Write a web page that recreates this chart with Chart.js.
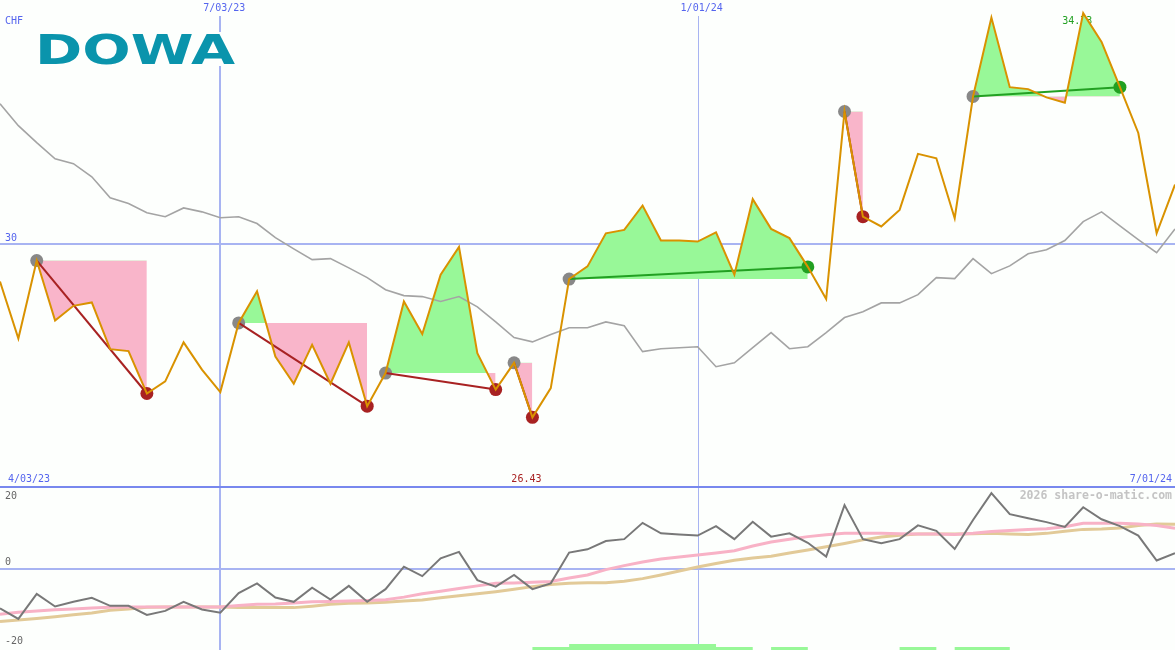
<!DOCTYPE html>
<html>
<head>
<meta charset="utf-8">
<script src="https://cdn.jsdelivr.net/npm/chart.js@4.4.1/dist/chart.umd.min.js"></script>
<style>
html,body{margin:0;padding:0;background:#fdfffd;}
#wrap{width:1175px;height:650px;position:relative;}
canvas{display:block;}
</style>
</head>
<body>
<div id="wrap"><canvas id="c" width="1175" height="650"></canvas></div>
<script>
// ---- data (weekly, Mondays) ----
const weeks = ['4/03/23','4/10/23','4/17/23','4/24/23','5/08/23','5/15/23','5/22/23','5/29/23','6/05/23','6/12/23',
  '6/19/23','6/26/23','7/03/23','7/10/23','7/17/23','7/24/23','7/31/23','8/07/23','8/14/23','8/21/23',
  '8/28/23','9/04/23','9/11/23','9/18/23','9/25/23','10/02/23','10/09/23','10/16/23','10/23/23','10/30/23',
  '11/06/23','11/13/23','11/20/23','11/27/23','12/04/23','12/11/23','12/18/23','12/25/23','1/01/24','1/08/24',
  '1/15/24','1/22/24','1/29/24','2/05/24','2/12/24','2/19/24','2/26/24','3/04/24','3/11/24','3/18/24',
  '3/25/24','4/01/24','4/08/24','4/15/24','4/22/24','4/29/24','5/06/24','5/13/24','5/20/24','5/27/24',
  '6/03/24','6/10/24','6/17/24','6/24/24','7/01/24'];

const price = [29.22,28.05,29.65,28.42,28.72,28.79,27.83,27.79,26.92,27.17,
  27.97,27.41,26.95,28.37,29.02,27.68,27.12,27.92,27.12,27.97,
  26.66,27.34,28.81,28.14,29.36,29.93,27.75,27.00,27.55,26.43,
  27.03,29.27,29.53,30.21,30.28,30.78,30.06,30.06,30.04,30.23,
  29.36,30.91,30.30,30.11,29.52,28.86,32.71,30.55,30.35,30.69,
  31.84,31.75,30.52,33.02,34.64,33.21,33.17,33.00,32.89,34.73,
  34.14,33.21,32.27,30.21,31.21];

const movingAvg = [32.87,32.42,32.07,31.74,31.64,31.37,30.94,30.82,30.63,30.55,
  30.73,30.65,30.53,30.55,30.41,30.12,29.89,29.67,29.69,29.50,
  29.30,29.05,28.93,28.91,28.81,28.91,28.70,28.39,28.07,27.98,
  28.13,28.27,28.27,28.39,28.31,27.78,27.84,27.86,27.88,27.47,
  27.55,27.86,28.17,27.84,27.88,28.17,28.48,28.60,28.78,28.78,
  28.95,29.30,29.28,29.69,29.38,29.54,29.79,29.87,30.06,30.45,
  30.65,30.36,30.08,29.81,30.30];

const momentum = [-11.0,-13.9,-7.0,-10.5,-9.2,-8.1,-10.3,-10.3,-12.8,-11.7,
  -9.2,-11.3,-12.2,-6.8,-4.1,-8.0,-9.2,-5.3,-8.6,-4.8,
  -9.2,-5.7,0.5,-2.1,2.8,4.6,-3.2,-5.0,-1.8,-5.7,
  -4.1,4.4,5.3,7.6,8.1,12.6,9.7,9.4,9.1,11.7,
  8.1,12.9,8.8,9.7,7.1,3.3,17.5,8.1,7.0,8.1,
  11.9,10.4,5.4,13.4,20.8,15.0,13.9,12.8,11.5,16.9,
  13.6,11.7,9.1,2.2,4.2];

const momentumAvgFast = [-12.6,-12.1,-11.7,-11.4,-11.2,-10.9,-10.7,-10.6,-10.6,-10.6,
  -10.6,-10.6,-10.6,-10.2,-9.9,-9.8,-9.5,-9.2,-9.1,-9.0,
  -8.8,-8.6,-7.9,-7.0,-6.3,-5.5,-4.8,-4.1,-4.0,-3.8,
  -3.6,-2.6,-1.8,-0.3,0.8,1.8,2.6,3.2,3.7,4.3,
  4.9,6.2,7.3,8.1,8.8,9.3,9.7,9.7,9.7,9.6,
  9.5,9.5,9.4,9.7,10.2,10.5,10.8,11.0,11.5,12.5,
  12.5,12.5,12.3,11.9,11.1];

const momentumAvgSlow = [-14.6,-14.2,-13.8,-13.3,-12.8,-12.3,-11.5,-11.2,-10.7,-10.6,
  -10.6,-10.6,-10.6,-10.8,-10.8,-10.8,-10.8,-10.4,-9.9,-9.6,
  -9.5,-9.3,-9.0,-8.7,-8.1,-7.5,-7.0,-6.4,-5.7,-5.0,
  -4.4,-4.1,-3.9,-3.9,-3.5,-2.8,-1.8,-0.7,0.4,1.4,
  2.3,2.9,3.4,4.3,5.1,6.0,6.9,7.9,8.7,9.2,
  9.5,9.5,9.5,9.6,9.7,9.5,9.4,9.7,10.3,10.8,
  10.9,11.2,11.9,12.3,12.2];

const signalStrength = [0,0,0,0,0,0,0,0,0,0, 0,0,0,0,0,0,0,0,0,0,
  0,0,0,0,0,0,0,0,0,1, 1,2,2,2,2,2,2,2,2,1,
  1,0,1,1,0,0,0,0,0,1, 1,0,1,1,1,0,0,0,0,0, 0,0,0,0,0];

const patternStart = [2,13,21,28,31,46,53];
const patternEnd   = [8,20,27,29,44,47,61];
const patternType  = ['down','down','down','down','up','down','up'];

const gridWeekIdx = [12, 38];
const priceTicks = [30];
const momentumTicks = [20, 0, -20];
const currency = 'CHF';
const minLabel = '26.43';
const maxLabel = '34.73';
const watermark = '2026 share-o-matic.com';
const logoText = 'DOWA';

// ---- colours ----
const BG = '#fdfffd';
const GRID = '#a8b4f2';
const SEP = '#7888ee';
const TXT_BLUE = '#5565ee';
const GREEN_FILL = '#98f898';
const PINK_FILL = '#f9b5ca';
const RED = '#a82222';
const GREEN = '#22a022';

// ---- datasets ----
const N = price.length;
const datasets = [];

datasets.push({ label:'price', data: price, yAxisID:'y', borderColor:'#d99200', borderWidth:2,
  pointRadius:0, tension:0, fill:false, order:1 });

patternStart.forEach((s, k) => {
  const e = patternEnd[k];
  const d = new Array(N).fill(null);
  d[s] = price[s]; d[e] = price[e];
  datasets.push({ label:'trend'+k, data:d, yAxisID:'y', spanGaps:true,
    borderColor: patternType[k]==='up' ? GREEN : RED, borderWidth:2, pointRadius:0, fill:false, order:3 });
});

const startDots = new Array(N).fill(null);
const downDots = new Array(N).fill(null);
const upDots = new Array(N).fill(null);
patternStart.forEach((s, k) => {
  startDots[s] = price[s];
  const e = patternEnd[k];
  if (patternType[k]==='up') upDots[e] = price[e]; else downDots[e] = price[e];
});
[[startDots,'#888888'],[downDots,RED],[upDots,GREEN]].forEach(([d,c],k)=>{
  datasets.push({ label:'dots'+k, data:d, yAxisID:'y', showLine:false, pointRadius:6.5,
    pointBorderWidth:0, pointBackgroundColor:c, pointBorderColor:c, order:4 });
});

datasets.push({ label:'momentum', data: momentum, yAxisID:'yb', borderColor:'#787878', borderWidth:2,
  pointRadius:0, tension:0, fill:false, order:5 });
datasets.push({ label:'momFast', data: momentumAvgFast, yAxisID:'yb', borderColor:'#f8b2c6', borderWidth:3,
  pointRadius:0, tension:0, fill:false, order:6 });
datasets.push({ label:'momSlow', data: momentumAvgSlow, yAxisID:'yb', borderColor:'#e2ca98', borderWidth:3,
  pointRadius:0, tension:0, fill:false, order:7 });

datasets.push({ label:'ma', data: movingAvg, yAxisID:'y', borderColor:'#a4a4a4', borderWidth:1.6,
  pointRadius:0, tension:0, fill:false, order:8 });

patternStart.forEach((s, k) => {
  const e = patternEnd[k];
  const d = price.map((v,i) => (i>=s && i<=e) ? v : null);
  datasets.push({ label:'zone'+k, data:d, yAxisID:'y', spanGaps:false, borderWidth:0, pointRadius:0,
    borderColor:'rgba(0,0,0,0)',
    fill:{ target:{ value: price[s] }, above: GREEN_FILL, below: PINK_FILL }, order:9 });
});

datasets.push({ label:'signal', data: signalStrength, yAxisID:'ys', stepped:'before', borderWidth:0,
  borderColor:'rgba(0,0,0,0)', pointRadius:0, fill:{ target:'origin', above: GREEN_FILL }, order:10 });

// ---- decorations ----
const MONO = '"DejaVu Sans Mono", "Liberation Mono", monospace';
const decor = {
  id:'decor',
  beforeDraw(chart){
    const c = chart.ctx;
    c.save(); c.fillStyle = BG; c.fillRect(0,0,chart.width,chart.height); c.restore();
  },
  beforeDatasetsDraw(chart){
    const c = chart.ctx, x = chart.scales.x, y = chart.scales.y, yb = chart.scales.yb;
    const W = chart.width, H = chart.height;
    c.save();
    // vertical week grid
    gridWeekIdx.forEach((i,k) => {
      const px = Math.round(x.getPixelForValue(i)) + (k===0 ? 0 : 0.5);
      c.strokeStyle = GRID; c.lineWidth = k===0 ? 2 : 1;
      c.beginPath(); c.moveTo(px, 16); c.lineTo(px, H); c.stroke();
    });
    // horizontal price ticks
    priceTicks.forEach(v => {
      const py = Math.round(y.getPixelForValue(v));
      c.strokeStyle = GRID; c.lineWidth = 2;
      c.beginPath(); c.moveTo(0, py); c.lineTo(W, py); c.stroke();
    });
    // zero line of lower panel
    const z = Math.round(yb.getPixelForValue(0));
    c.strokeStyle = GRID; c.lineWidth = 2;
    c.beginPath(); c.moveTo(0, z); c.lineTo(W, z); c.stroke();
    // separator (price 25 / momentum 22.5)
    const sep = Math.round(y.getPixelForValue(25));
    c.strokeStyle = SEP; c.lineWidth = 2;
    c.beginPath(); c.moveTo(0, sep); c.lineTo(W, sep); c.stroke();

    // max / min labels
    let iMax = 0, iMin = 0;
    price.forEach((v,i)=>{ if(v>price[iMax]) iMax=i; if(v<price[iMin]) iMin=i; });
    c.font = '10px ' + MONO; c.textAlign = 'center'; c.textBaseline = 'middle';
    c.fillStyle = GREEN; c.fillText(maxLabel, x.getPixelForValue(iMax) - 6, 21);
    c.fillStyle = RED; c.fillText(minLabel, x.getPixelForValue(iMin) - 6, sep - 8);
    c.restore();
  },
  afterDatasetsDraw(chart){
    const c = chart.ctx, x = chart.scales.x, y = chart.scales.y, yb = chart.scales.yb;
    const W = chart.width;
    const sep = Math.round(y.getPixelForValue(25));
    c.save();
    c.font = '10px ' + MONO; c.textBaseline = 'middle';
    c.fillStyle = TXT_BLUE;
    c.textAlign = 'left'; c.fillText(currency, 5, 21);
    priceTicks.forEach(v => c.fillText(String(v), 5, y.getPixelForValue(v) - 5));
    gridWeekIdx.forEach(i => { c.textAlign='center'; c.fillText(weeks[i], x.getPixelForValue(i) + 4, 8); });
    c.textAlign = 'left'; c.fillText(weeks[0], 8, sep - 8);
    c.textAlign = 'right'; c.fillText(weeks[N-1], W - 3, sep - 8);
    // lower panel ticks
    c.fillStyle = '#666666'; c.textAlign = 'left';
    momentumTicks.forEach(v => {
      const py = yb.getPixelForValue(v) - (v===0 ? 6 : 0);
      c.fillText(String(v), 5, py);
    });
    // watermark
    c.font = 'bold 11.5px ' + MONO; c.fillStyle = '#c4c4c4'; c.textAlign = 'right';
    c.fillText(watermark, W - 3, sep + 9);
    // logo
    c.fillStyle = BG; c.fillRect(33, 32, 205, 34);
    c.font = 'bold 40px "DejaVu Sans"'; c.textAlign = 'left'; c.textBaseline = 'alphabetic';
    const w = c.measureText(logoText).width;
    c.translate(35, 64); c.scale(200 / w, 1);
    c.fillStyle = '#0a94ac'; c.fillText(logoText, 0, 0);
    c.restore();
  }
};

new Chart(document.getElementById('c'), {
  type: 'line',
  data: { labels: weeks, datasets },
  options: {
    responsive: false, animation: false, events: [],
    layout: { padding: 0, autoPadding: false },
    plugins: { legend: { display:false }, tooltip: { enabled:false }, title: { display:false } },
    scales: {
      x: { type:'category', display:false, offset:false },
      y: { display:false, min: 21.653, max: 35 },
      yb: { display:false, min: -22.5, max: 156.95 },
      ys: { display:false, min: 0, max: 650/3 }
    }
  },
  plugins: [decor]
});
</script>
</body>
</html>
